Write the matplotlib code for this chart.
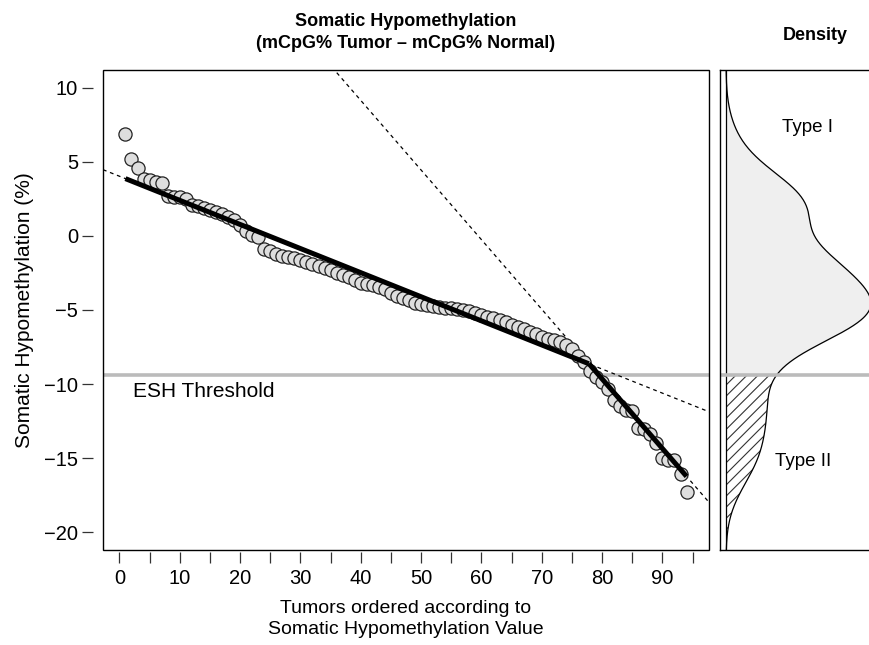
import numpy as np
import matplotlib.pyplot as plt
from matplotlib import transforms
from matplotlib.patches import Rectangle

plt.rcParams['font.family'] = ['Liberation Sans', 'DejaVu Sans']
plt.rcParams['hatch.linewidth'] = 0.8

# somatic hypomethylation per tumor, already sorted (%)
hypo = np.array([
    6.85, 5.2, 4.6, 3.85, 3.75, 3.65, 3.55, 2.7, 2.65, 2.6,
    2.5, 2.1, 2.0, 1.9, 1.75, 1.6, 1.45, 1.3, 1.1, 0.75,
    0.3, 0.05, -0.1, -0.85, -1.05, -1.2, -1.33, -1.44, -1.5, -1.6,
    -1.75, -1.9, -2.0, -2.15, -2.3, -2.5, -2.62, -2.8, -3.0, -3.15,
    -3.25, -3.33, -3.45, -3.6, -3.85, -4.05, -4.2, -4.35, -4.5, -4.6,
    -4.65, -4.75, -4.8, -4.85, -4.88, -4.92, -5.0, -5.1, -5.2, -5.35,
    -5.45, -5.53, -5.68, -5.8, -6.0, -6.12, -6.3, -6.5, -6.65, -6.8,
    -6.95, -7.05, -7.15, -7.35, -7.6, -8.1, -8.5, -9.1, -9.5, -9.85,
    -10.3, -11.1, -11.5, -11.75, -11.8, -12.95, -13.0, -13.35, -14.0, -15.0,
    -15.1, -15.15, -16.05, -17.3,
])
idx = np.arange(1, len(hypo) + 1)

threshold = -9.4
# segmented fit: (intercept, slope) left and right of the break
fit_break = 77.8
fit_left = (4.03, -0.1627)
fit_right = (27.95, -0.47)

fig = plt.figure(figsize=(8.69, 6.45), dpi=100)
W, H = 869, 645
ax = fig.add_axes([103 / W, 1 - 550 / H, 606 / W, 480 / H])
ax2 = fig.add_axes([720 / W, 1 - 550 / H, 165 / W, 480 / H])

xlim = (-2.72, 97.72)
ylim = (-21.2, 11.2)

# main panel
ax.axhline(threshold, color='#bbbbbb', lw=2.6, zorder=1)
xx = np.array(xlim)
ax.plot(xx, fit_left[0] + fit_left[1] * xx, color='black', lw=0.9, ls=(0, (3, 3)), zorder=2)
ax.plot(xx, fit_right[0] + fit_right[1] * xx, color='black', lw=0.9, ls=(0, (3, 3)), zorder=2)
ax.scatter(idx, hypo, s=90, facecolor='#dedede', edgecolor='#222222', lw=0.9, zorder=3)
xs = np.array([1, fit_break])
ax.plot(xs, fit_left[0] + fit_left[1] * xs, color='black', lw=3.6, zorder=4, solid_capstyle='butt')
xs = np.array([fit_break, len(hypo)])
ax.plot(xs, fit_right[0] + fit_right[1] * xs, color='black', lw=3.6, zorder=4, solid_capstyle='butt')
ax.text(2.2, -10.5, 'ESH Threshold', fontsize=15, va='center', ha='left')

ax.set_xlim(*xlim)
ax.set_ylim(*ylim)
ax.set_xticks(np.arange(0, 91, 10))
ax.set_xticks(np.arange(5, 96, 10), minor=True)
ax.set_yticks(np.arange(-20, 11, 5))
ax.tick_params(axis='both', which='both', direction='out', length=8, width=0.9,
               labelsize=14.5, color='#333333')
ax.tick_params(axis='x', pad=4)
ax.tick_params(axis='y', pad=3)
for side in ['top', 'right', 'left', 'bottom']:
    ax.spines[side].set_visible(False)
ax.spines['left'].set_position(('outward', 7))
ax.spines['bottom'].set_position(('outward', 1.5))
ax.add_patch(Rectangle((0, 0), 1, 1, transform=ax.transAxes, fill=False,
                       lw=1.0, edgecolor='black', clip_on=False, zorder=5))
ax.set_xlabel('Tumors ordered according to\nSomatic Hypomethylation Value', fontsize=14,
              labelpad=9, linespacing=1.3)
ax.set_ylabel('Somatic Hypomethylation (%)', fontsize=15, labelpad=7)
ax.set_title('Somatic Hypomethylation\n(mCpG% Tumor \u2013 mCpG% Normal)',
             fontsize=13, fontweight='bold', pad=16, linespacing=1.35)

# density panel (gaussian kde, R-style nrd0 bandwidth)
sd = hypo.std(ddof=1)
iqr = np.subtract(*np.percentile(hypo, [75, 25]))
bw = 0.9 * min(sd, iqr / 1.34) * len(hypo) ** -0.2
grid = np.linspace(hypo.min() - 3 * bw, hypo.max() + 3 * bw, 512)
grid = np.sort(np.append(grid, threshold))
dens = np.exp(-0.5 * ((grid[:, None] - hypo[None, :]) / bw) ** 2).sum(axis=1)
dens /= len(hypo) * bw * np.sqrt(2 * np.pi)

ax2.fill_betweenx(grid, 0, dens, where=grid >= threshold, color='#efefef', lw=0)
ax2.fill_betweenx(grid, 0, dens, where=grid <= threshold, facecolor='none',
                  edgecolor='#333333', hatch='///', lw=0)
ax2.plot(dens, grid, color='black', lw=0.9)
ax2.axvline(0, color='black', lw=0.9)
ax2.axhline(threshold, color='#bbbbbb', lw=2.6)
peak = dens.max()
ax2.set_xlim(-6 / 145 * peak, 159 / 145 * peak)
ax2.set_ylim(*ylim)
ax2.set_xticks([])
ax2.set_yticks([])
for side in ax2.spines.values():
    side.set_linewidth(1.0)

bt = transforms.blended_transform_factory(fig.transFigure, ax2.transData)
ax2.text(808 / W, 7.3, 'Type I', transform=bt, fontsize=13.5, ha='center', va='center')
ax2.text(803 / W, -15.2, 'Type II', transform=bt, fontsize=13.5, ha='center', va='center')
fig.text(815 / W, 1 - 35 / H, 'Density', fontsize=13, fontweight='bold', ha='center', va='center')

fig.savefig('out.png', dpi=100)
